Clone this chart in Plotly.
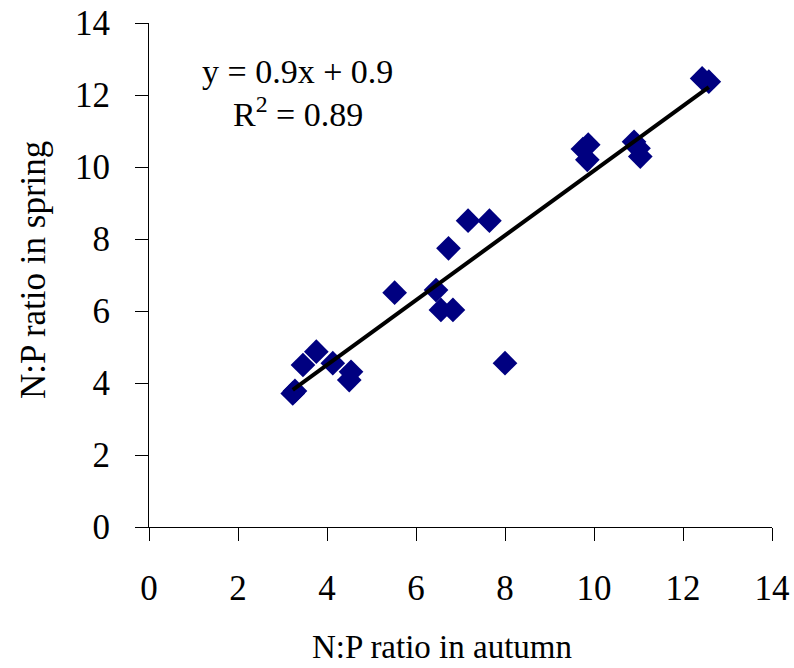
import numpy as np
import plotly.graph_objects as go

autumn = [3.23, 3.28, 3.46, 3.76, 4.13, 4.54, 4.50, 5.52, 6.45, 6.56, 6.83, 8.00,
          7.17, 7.65, 6.73, 9.75, 9.87, 9.85, 10.90, 11.00, 11.04, 12.43, 12.58]
spring = [3.71, 3.78, 4.50, 4.87, 4.55, 4.31, 4.08, 6.51, 6.58, 6.03, 6.03, 4.55,
          8.51, 8.51, 7.74, 10.50, 10.62, 10.20, 10.70, 10.52, 10.29, 12.46, 12.37]

slope, intercept = 0.9, 0.9
tick_vals = [0, 2, 4, 6, 8, 10, 12, 14]

fx = np.array([min(autumn), max(autumn)])
fy = slope * fx + intercept

font_family = "Liberation Serif, Times New Roman, serif"

W, H = 794, 668
ML, MR, MT, MB = 149, 22, 23, 141
pw = W - ML - MR
ph = H - MT - MB


def px(x):
    return (x - ML) / pw


def py(y):
    return (H - MB - y) / ph


fig = go.Figure()
fig.add_trace(go.Scatter(x=autumn, y=spring, mode="markers",
                         marker=dict(symbol="diamond", size=19, color="#000080",
                                     line=dict(width=0)),
                         showlegend=False, cliponaxis=False))
fig.add_trace(go.Scatter(x=fx, y=fy, mode="lines",
                         line=dict(color="black", width=4), showlegend=False))

fig.update_layout(
    width=W, height=H,
    margin=dict(l=ML, r=MR, t=MT, b=MB),
    paper_bgcolor="white", plot_bgcolor="white",
    font=dict(family=font_family, size=35, color="black"),
    xaxis=dict(range=[0, 14], tickvals=tick_vals, showgrid=False, zeroline=False,
               showline=True, linecolor="black", linewidth=1, automargin=False,
               ticks="outside", ticklen=13, tickcolor="black",
               ticklabelstandoff=17),
    yaxis=dict(range=[0, 14], tickvals=tick_vals, showgrid=False, zeroline=False,
               showline=True, linecolor="black", linewidth=1, automargin=False,
               ticks="outside", ticklen=13, tickcolor="black",
               ticklabelstandoff=18),
    annotations=[
        dict(text="y = 0.9x + 0.9", x=px(297), y=py(71), xref="paper", yref="paper",
             xanchor="center", yanchor="middle", showarrow=False,
             font=dict(size=34)),
        dict(text="R<sup>2</sup> = 0.89", x=px(298), y=py(112), xref="paper",
             yref="paper", xanchor="center", yanchor="middle", showarrow=False,
             font=dict(size=34)),
        dict(text="N:P ratio in autumn", x=px(442), y=py(647), xref="paper",
             yref="paper", xanchor="center", yanchor="middle", showarrow=False,
             font=dict(size=33)),
        dict(text="N:P ratio in spring", x=px(33), y=py(270), xref="paper",
             yref="paper", xanchor="center", yanchor="middle", showarrow=False,
             textangle=-90, font=dict(size=35)),
    ],
)

fig.write_html("out.html")
